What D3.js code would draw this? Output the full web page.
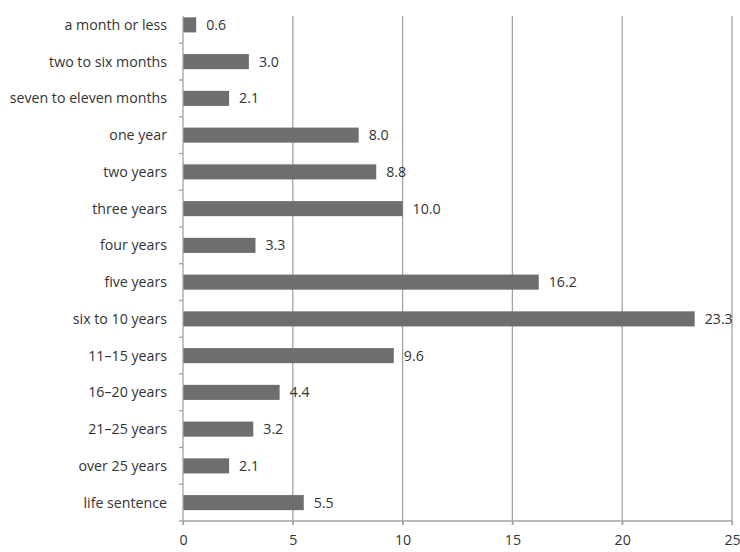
<!DOCTYPE html>
<html><head><meta charset="utf-8">
<script src="https://cdn.jsdelivr.net/npm/d3@7"></script>
<style>
html,body{margin:0;padding:0;background:#fff;}
svg{display:block;}
text{font-family:"Open Sans",sans-serif;fill:#333;}
</style></head>
<body><svg id="chart" width="740" height="552"></svg>
<script>
const categories = ["a month or less","two to six months","seven to eleven months","one year","two years","three years","four years","five years","six to 10 years","11–15 years","16–20 years","21–25 years","over 25 years","life sentence"];
const values = [0.6,3.0,2.1,8.0,8.8,10.0,3.3,16.2,23.3,9.6,4.4,3.2,2.1,5.5];
const valueLabels = ["0.6","3.0","2.1","8.0","8.8","10.0","3.3","16.2","23.3","9.6","4.4","3.2","2.1","5.5"];
const xTicks = [0,5,10,15,20,25];

(function(){
const svg = d3.select("#chart");
const mLeft = 183, mRight = 732, mTop = 6.5, mBottom = 521, axisTop = 16;
const fs = 14.2;
const x = d3.scaleLinear().domain([0,25]).range([mLeft,mRight]);
const y = d3.scaleBand().domain(categories).range([mTop,mBottom]).paddingInner(0.59).paddingOuter(0.295);
const gridColor = "#a3a3a3";

// gridlines
svg.append("g").selectAll("line").data(xTicks.filter(d=>d>0)).join("line")
  .attr("x1",d=>x(d)).attr("x2",d=>x(d)).attr("y1",axisTop).attr("y2",mBottom+4)
  .attr("stroke",gridColor).attr("stroke-width",1.3);

// bars
svg.append("g").selectAll("rect").data(values).join("rect")
  .attr("x",x(0)).attr("y",(d,i)=>y(categories[i]))
  .attr("width",d=>x(d)-x(0)).attr("height",y.bandwidth())
  .attr("fill","#6e6e71");

// value labels
svg.append("g").selectAll("text").data(values).join("text")
  .attr("x",d=>x(d)+10).attr("y",(d,i)=>y(categories[i])+y.bandwidth()/2)
  .attr("dy","0.36em").attr("font-size",fs).text((d,i)=>valueLabels[i]);

// left axis line and ticks at band bottoms
svg.append("line").attr("x1",mLeft).attr("x2",mLeft).attr("y1",axisTop).attr("y2",mBottom+4)
  .attr("stroke",gridColor).attr("stroke-width",1.3);
const step = y.step();
svg.append("g").selectAll("line").data(categories).join("line")
  .attr("x1",mLeft-4).attr("x2",mLeft)
  .attr("y1",(d,i)=>mTop + step*(i+1)).attr("y2",(d,i)=>mTop + step*(i+1))
  .attr("stroke",gridColor).attr("stroke-width",1.3);

// category labels
svg.append("g").selectAll("text").data(categories).join("text")
  .attr("x",167).attr("y",d=>y(d)+y.bandwidth()/2).attr("dy","0.36em")
  .attr("text-anchor","end").attr("font-size",fs).text(d=>d);

// bottom axis
const xAxis = d3.axisBottom(x).tickValues(xTicks).tickSize(4).tickPadding(10).tickFormat(d3.format("d"));
const gx = svg.append("g").attr("transform",`translate(0,${mBottom})`).call(xAxis);
gx.select(".domain").attr("stroke",gridColor).attr("stroke-width",1.3).attr("d",`M${mLeft},0H${mRight}`);
gx.selectAll(".tick line").attr("stroke",gridColor).attr("stroke-width",1.3);
gx.selectAll(".tick text").attr("font-size",fs).attr("font-family","Open Sans, sans-serif").attr("fill","#333");
})();
</script></body></html>
